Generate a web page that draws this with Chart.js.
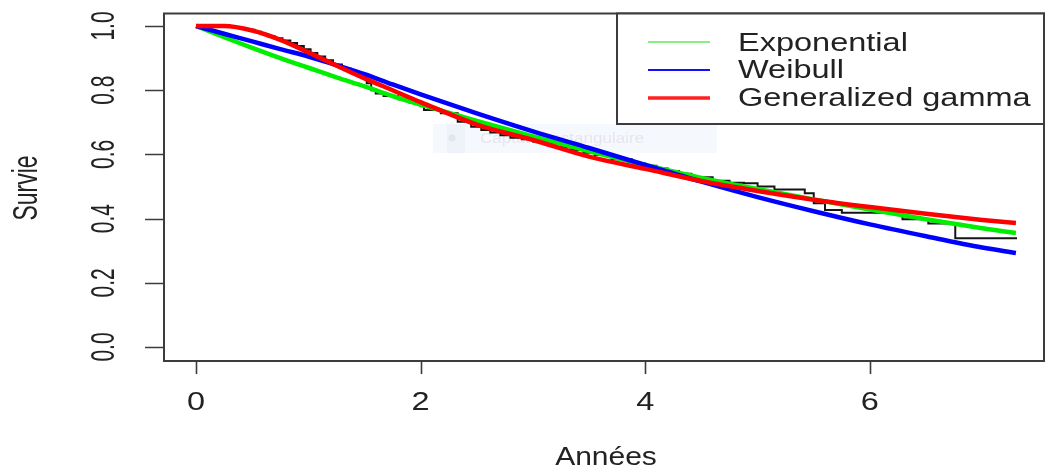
<!DOCTYPE html>
<html><head><meta charset="utf-8">
<script src="https://cdn.jsdelivr.net/npm/chart.js@4.4.1/dist/chart.umd.min.js"></script>
<style>html,body{margin:0;padding:0;background:#fff}#wrap{width:1045px;height:471px}</style>
</head><body><div id="wrap"><canvas id="c" width="1045" height="471"></canvas></div>
<script>
const seriesNames = ['Exponential', 'Weibull', 'Generalized gamma'];
const tCurve = [0, 0.25, 0.5, 0.75, 1, 1.25, 1.5, 1.75, 2, 2.5, 3, 3.5, 4, 4.5, 5, 5.5, 6, 6.5, 7, 7.3];
const survExp = [1.0, 0.965, 0.932, 0.9, 0.87, 0.84, 0.812, 0.782, 0.755, 0.704, 0.656, 0.61, 0.567, 0.527, 0.492, 0.46, 0.428, 0.398, 0.37, 0.355];
const survWeib = [1.0, 0.976, 0.952, 0.928, 0.905, 0.878, 0.85, 0.818, 0.787, 0.728, 0.672, 0.62, 0.567, 0.515, 0.467, 0.423, 0.382, 0.345, 0.31, 0.293];
const survGG = [1.0, 1.0, 0.986, 0.957, 0.918, 0.877, 0.837, 0.8, 0.763, 0.693, 0.645, 0.593, 0.555, 0.517, 0.486, 0.459, 0.436, 0.415, 0.396, 0.386];
const tKM = [0, 0.35, 0.45, 0.52, 0.58, 0.64, 0.7, 0.77, 0.84, 0.9, 0.96, 1.02, 1.08, 1.15, 1.22, 1.3, 1.38, 1.46, 1.52, 1.56, 1.6, 1.67, 1.8, 1.9, 2.0, 2.03, 2.18, 2.33, 2.45, 2.54, 2.62, 2.71, 2.8, 2.9, 3.0, 3.13, 3.25, 3.34, 3.45, 3.55, 3.7, 3.88, 4.0, 4.1, 4.2, 4.3, 4.41, 4.6, 4.75, 4.88, 5.0, 5.15, 5.42, 5.5, 5.6, 5.75, 6.29, 6.52, 6.76, 7.31];
const survKM = [1.0, 0.994, 0.988, 0.982, 0.975, 0.968, 0.962, 0.955, 0.947, 0.938, 0.928, 0.916, 0.905, 0.893, 0.88, 0.867, 0.854, 0.841, 0.822, 0.8, 0.79, 0.782, 0.772, 0.762, 0.75, 0.738, 0.728, 0.702, 0.686, 0.676, 0.668, 0.66, 0.652, 0.647, 0.64, 0.634, 0.622, 0.614, 0.605, 0.598, 0.585, 0.572, 0.565, 0.556, 0.548, 0.54, 0.529, 0.518, 0.512, 0.51, 0.5, 0.491, 0.479, 0.448, 0.427, 0.418, 0.398, 0.385, 0.339, 0.339];
const xTicks = [0, 2, 4, 6];
const xTickLabels = ['0', '2', '4', '6'];
const yTicks = [0, 0.2, 0.4, 0.6, 0.8, 1.0];
const yTickLabels = ['0.0', '0.2', '0.4', '0.6', '0.8', '1.0'];
const xTitle = 'Années';
const yTitle = 'Survie';
const overlayText = 'Capture rectangulaire';

const FONT = '"Liberation Sans", Arial, sans-serif';
const TXT = '#222';

function sText(ctx, txt, x, y, size, align, rot, sx, color) {
  ctx.save();
  ctx.translate(x, y);
  ctx.scale(sx, 1);
  if (rot) ctx.rotate(rot);
  ctx.font = size + 'px ' + FONT;
  ctx.fillStyle = color || TXT;
  ctx.textAlign = align;
  ctx.textBaseline = 'middle';
  ctx.fillText(txt, 0, 0);
  ctx.restore();
}

const pts = (xs, ys) => xs.map((t, i) => ({x: t, y: ys[i]}));

const decor = {
  id: 'decor',
  beforeDatasetsDraw(chart) {
    const ctx = chart.ctx;
    ctx.save();
    ctx.fillStyle = 'rgba(232,242,252,0.45)';
    ctx.fillRect(433, 124, 284, 29);
    ctx.fillStyle = 'rgba(225,232,240,0.35)';
    ctx.fillRect(447, 124, 18, 29);
    ctx.fillStyle = 'rgba(215,215,222,0.5)';
    ctx.beginPath(); ctx.arc(452, 138, 3.5, 0, Math.PI * 2); ctx.fill();
    ctx.restore();
    sText(ctx, overlayText, 480, 139, 14, 'left', 0, 1.22, 'rgba(215,205,215,0.45)');
  },
  afterDraw(chart) {
    const ctx = chart.ctx;
    const ca = chart.chartArea;
    const xs = chart.scales.x, ys = chart.scales.y;
    ctx.save();
    ctx.strokeStyle = '#3c3c3c';
    ctx.lineWidth = 2;
    ctx.strokeRect(ca.left, ca.top, ca.right - ca.left, ca.bottom - ca.top);
    ctx.lineWidth = 1.6;
    ctx.beginPath();
    yTicks.forEach(v => {
      const y = Math.round(ys.getPixelForValue(v)) + 0.5;
      ctx.moveTo(ca.left - 19, y); ctx.lineTo(ca.left, y);
    });
    xTicks.forEach(v => {
      const x = Math.round(xs.getPixelForValue(v)) + 0.5;
      ctx.moveTo(x, ca.bottom); ctx.lineTo(x, ca.bottom + 13);
    });
    ctx.stroke();
    ctx.restore();
    yTicks.forEach((v, i) => sText(ctx, yTickLabels[i], 105, ys.getPixelForValue(v), 21, 'center', -Math.PI / 2, 1.6));
    xTicks.forEach((v, i) => sText(ctx, xTickLabels[i], xs.getPixelForValue(v), 403, 25, 'center', 0, 1.3));
    sText(ctx, xTitle, 606, 458, 25, 'center', 0, 1.2);
    sText(ctx, yTitle, 27, 188, 23, 'center', -Math.PI / 2, 1.5);
    // legend
    ctx.save();
    ctx.fillStyle = '#fff';
    ctx.fillRect(617, 13.5, 428, 110.5);
    ctx.strokeStyle = '#3c3c3c';
    ctx.lineWidth = 2;
    ctx.strokeRect(617, 13.5, 427, 110.5);
    const legY = [42, 70, 98];
    const legCol = ['#86ef86', '#1010ff', '#ff2020'];
    const legW = [2, 2, 3.5];
    seriesNames.forEach((n, i) => {
      ctx.strokeStyle = legCol[i];
      ctx.lineWidth = legW[i];
      ctx.beginPath(); ctx.moveTo(648, legY[i]); ctx.lineTo(710, legY[i]); ctx.stroke();
    });
    ctx.restore();
    seriesNames.forEach((n, i) => sText(ctx, n, 738, [44, 71, 99][i], 25, 'left', 0, 1.3));
  }
};

new Chart(document.getElementById('c'), {
  type: 'line',
  data: {
    datasets: [
      {label: 'KM', data: pts(tKM, survKM), borderColor: '#151515', borderWidth: 2, stepped: true, pointRadius: 0, order: 4},
      {label: seriesNames[0], data: pts(tCurve, survExp), borderColor: '#00ee00', borderWidth: 4.5, pointRadius: 0, cubicInterpolationMode: 'monotone', order: 3},
      {label: seriesNames[1], data: pts(tCurve, survWeib), borderColor: '#0000ff', borderWidth: 4.5, pointRadius: 0, cubicInterpolationMode: 'monotone', order: 2},
      {label: seriesNames[2], data: pts(tCurve, survGG), borderColor: '#ff0000', borderWidth: 4.5, pointRadius: 0, cubicInterpolationMode: 'monotone', order: 1}
    ]
  },
  options: {
    responsive: false,
    animation: false,
    devicePixelRatio: 1,
    layout: {padding: {left: 164, top: 13.5, right: 1, bottom: 110}},
    plugins: {legend: {display: false}, tooltip: {enabled: false}},
    scales: {
      x: {type: 'linear', min: -0.285, max: 7.55, display: false},
      y: {type: 'linear', min: -0.0436, max: 1.039, display: false}
    }
  },
  plugins: [decor]
});
</script></body></html>
